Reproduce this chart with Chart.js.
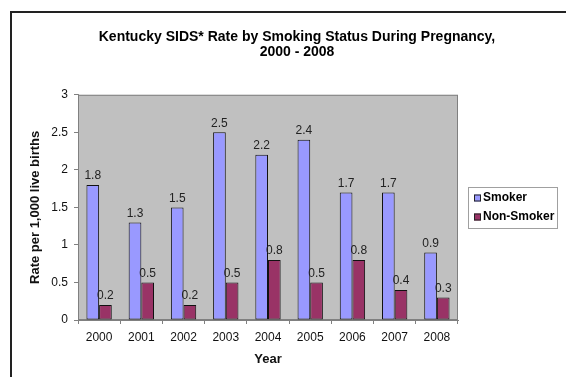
<!DOCTYPE html>
<html>
<head>
<meta charset="utf-8">
<title>Kentucky SIDS Rate</title>
<script src="https://cdn.jsdelivr.net/npm/chart.js@4.4.1/dist/chart.umd.min.js"></script>
<style>
    body { margin: 0; background: #fff; }
    #frame { position: absolute; left: 10px; top: 11px; width: 620px; height: 420px; border: 2px solid #222; }
    #wrap { position: absolute; left: 0; top: 0; width: 566px; height: 377px; }
</style>
</head>
<body>
<div id="frame"></div>
<div id="wrap"><canvas id="bar-chart" width="566" height="377"></canvas></div>
<script>
var anni = ["2000", "2001", "2002", "2003", "2004", "2005", "2006", "2007", "2008"];
var fumatori = [1.8, 1.3, 1.5, 2.5, 2.2, 2.4, 1.7, 1.7, 0.9];
var nonFumatori = [0.2, 0.5, 0.2, 0.5, 0.8, 0.5, 0.8, 0.4, 0.3];
var nomiSerie = ["Smoker", "Non-Smoker"];
var titolo = ["Kentucky SIDS* Rate by Smoking Status During Pregnancy,", "2000 - 2008"];

var FONT = "Arial, 'Liberation Sans', sans-serif";

// sfondo grigio dell'area del grafico
var plotArea = {
    id: 'plotArea',
    beforeDatasetsDraw: function (chart) {
        var a = chart.chartArea;
        var ctx = chart.ctx;
        ctx.save();
        ctx.fillStyle = '#c0c0c0';
        ctx.fillRect(a.left, a.top, a.right - a.left, a.bottom - a.top);
        ctx.strokeStyle = '#808080';
        ctx.lineWidth = 1;
        ctx.strokeRect(a.left + 0.5, a.top + 0.5, a.right - a.left - 1, a.bottom - a.top - 1);
        ctx.restore();
    }
};

// valori sopra le barre
var valori = {
    id: 'valori',
    afterDatasetsDraw: function (chart) {
        var ctx = chart.ctx;
        ctx.save();
        ctx.font = "12px " + FONT;
        ctx.fillStyle = '#222';
        ctx.textAlign = 'center';
        ctx.textBaseline = 'bottom';
        chart.data.datasets.forEach(function (ds, i) {
            chart.getDatasetMeta(i).data.forEach(function (bar, j) {
                ctx.fillText(String(ds.data[j]), bar.x, bar.y - 3);
            });
        });
        ctx.restore();
    }
};

// legenda con bordo a destra
var legenda = {
    id: 'legenda',
    afterDraw: function (chart) {
        var ctx = chart.ctx;
        var x = chart.chartArea.right + 10;
        var y = 187;
        ctx.save();
        ctx.strokeStyle = '#a0a0a0';
        ctx.lineWidth = 1;
        ctx.strokeRect(x + 0.5, y + 0.5, 89, 41);
        ctx.font = "bold 12px " + FONT;
        ctx.textBaseline = 'middle';
        chart.data.datasets.forEach(function (ds, i) {
            var cy = y + 11 + i * 19;
            ctx.fillStyle = ds.backgroundColor;
            ctx.fillRect(x + 6, cy - 3.5, 7, 7);
            ctx.strokeStyle = '#222';
            ctx.strokeRect(x + 6.5, cy - 3, 6, 6);
            ctx.fillStyle = '#000';
            ctx.fillText(ds.label, x + 15, cy);
        });
        ctx.restore();
    }
};

var ctx = document.getElementById('bar-chart');
var chart = new Chart(ctx, {

    type: 'bar',

    data: {
        labels: anni,
        datasets: [
        {
            label: nomiSerie[0],
            backgroundColor: '#9999ff',
            borderColor: '#111',
            borderWidth: 1,
            borderSkipped: false,
            inflateAmount: 0,
            data: fumatori
        },
        {
            label: nomiSerie[1],
            backgroundColor: '#993366',
            borderColor: '#111',
            borderWidth: 1,
            borderSkipped: false,
            inflateAmount: 0,
            data: nonFumatori
        }]
    },
    options: {
        responsive: false,
        animation: false,
        layout: { padding: { left: 28, right: 0, top: 0, bottom: 0 } },
        datasets: {
            bar: { categoryPercentage: 0.6, barPercentage: 1.0 }
        },
        plugins: {
            legend: { display: false },
            tooltip: { enabled: false },
            title: {
                display: true,
                text: titolo,
                color: '#000',
                font: { family: FONT, size: 14, weight: 'bold', lineHeight: 1.1 },
                padding: { top: 29, bottom: 35 }
            }
        },
        scales: {
            x: {
                grid: { display: true, drawOnChartArea: false, color: '#808080', tickLength: 4 },
                border: { color: '#808080' },
                ticks: { color: '#111', font: { family: FONT, size: 12 }, padding: 6, maxRotation: 0 },
                title: {
                    display: true,
                    text: 'Year',
                    color: '#111',
                    font: { family: FONT, size: 13, weight: 'bold' },
                    padding: { top: 4, bottom: 10 }
                },
                afterFit: function (scale) { scale.height = 57; }
            },
            y: {
                min: 0,
                max: 3,
                grid: { display: true, drawOnChartArea: false, color: '#808080', tickLength: 4 },
                border: { color: '#808080' },
                ticks: {
                    stepSize: 0.5,
                    color: '#111',
                    font: { family: FONT, size: 12 },
                    padding: 6,
                    callback: function (v) { return String(v); }
                },
                title: {
                    display: true,
                    text: 'Rate per 1,000 live births',
                    color: '#111',
                    font: { family: FONT, size: 13, weight: 'bold' },
                    padding: { top: 0, bottom: 0 }
                },
                afterFit: function (scale) { scale.width = 50; }
            },
            spazio: {
                position: 'right',
                display: true,
                grid: { display: false },
                border: { display: false },
                ticks: { display: false },
                afterFit: function (scale) { scale.width = 108; }
            }
        }
    },
    plugins: [plotArea, valori, legenda]
});
</script>
</body>
</html>
